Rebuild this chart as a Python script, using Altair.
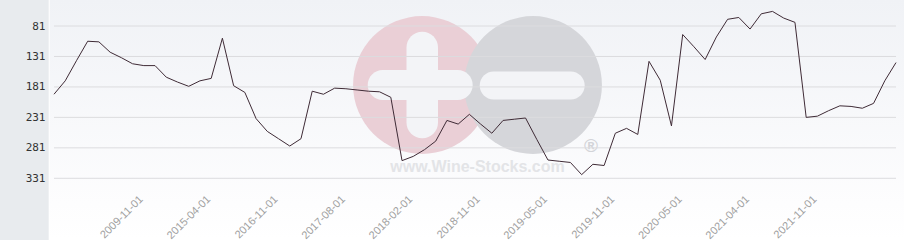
import altair as alt
import pandas as pd

# ranking values, one per period (76 periods, evenly spaced ordinal positions)
ranks = [193, 171, 138, 106, 107, 124, 133, 143, 146, 146,
         165, 173, 180, 171, 167, 101, 179, 190, 233, 254,
         266, 278, 266, 188, 193, 183, 184, 186, 188, 189,
         198, 302, 295, 284, 270, 236, 242, 226, 242, 257,
         236, 234, 232, 267, 301, 303, 305, 325, 308, 310,
         257, 249, 259, 139, 170, 245, 95, 115, 136, 99,
         70, 67, 86, 61, 57, 68, 75, 231, 229, 220,
         212, 213, 216, 208, 171, 141]

tick_index = [8, 14, 20, 26, 32, 38, 44, 50, 56, 62, 68]
tick_labels = ["2009-11-01", "2015-04-01", "2016-11-01", "2017-08-01",
               "2018-02-01", "2018-11-01", "2019-05-01", "2019-11-01",
               "2020-05-01", "2021-04-01", "2021-11-01"]
y_ticks = [81, 131, 181, 231, 281, 331]

df = pd.DataFrame({"idx": list(range(len(ranks))), "rank": ranks})
grid_df = pd.DataFrame({"t": y_ticks})
one = pd.DataFrame({"a": [0]})

W, H = 842, 190

label_expr = ("[" + ",".join(f"'{s}'" for s in tick_labels) + "][indexof(["
              + ",".join(str(i) for i in tick_index) + "], datum.value)]")

x_enc = alt.X("idx:Q",
              scale=alt.Scale(domain=[0, len(ranks) - 1], nice=False, zero=False),
              axis=alt.Axis(values=tick_index, labelExpr=label_expr, labelAngle=-45,
                            labelAlign="right", labelBaseline="top", labelPadding=3,
                            labelOffset=-7,
                            ticks=False, domain=False, grid=False, title=None,
                            labelFont="Liberation Sans", labelFontSize=11,
                            labelColor="#a0a0a0", labelOverlap=False, zindex=1))
y_scale = alt.Scale(domain=[38.3, 350.2], reverse=True, nice=False, zero=False)
y_axis = alt.Axis(values=y_ticks, ticks=False, domain=False, grid=False, title=None,
                  labelFont="DejaVu Sans Mono", labelFontSize=11, labelColor="#333333",
                  labelPadding=9, zindex=1)

bg_gray = alt.Chart(one).mark_rect(color="#e8ebee").encode(
    x=alt.value(-54), x2=alt.value(-5.3), y=alt.value(0), y2=alt.value(240))

bg_grad = alt.Chart(one).mark_rect(
    fill=alt.Gradient(gradient="linear",
                      stops=[alt.GradientStop(color="#f0f2f6", offset=0),
                             alt.GradientStop(color="#fdfdfe", offset=0.85),
                             alt.GradientStop(color="#ffffff", offset=1)],
                      x1=0, x2=0, y1=0, y2=1)
).encode(x=alt.value(-4.3), x2=alt.value(850), y=alt.value(0), y2=alt.value(240))

# watermark
pink = alt.Chart(one).mark_circle(color="#eacfd6", opacity=1, size=19000).encode(
    x=alt.value(368), y=alt.value(85))
gray = alt.Chart(one).mark_circle(color="#d5d6da", opacity=1, size=19000).encode(
    x=alt.value(479), y=alt.value(85))
plus_v = alt.Chart(one).mark_rect(color="#f3f4f7", cornerRadius=16).encode(
    x=alt.value(352.5), x2=alt.value(384), y=alt.value(31.7), y2=alt.value(138.3))
plus_h = alt.Chart(one).mark_rect(color="#f3f4f7", cornerRadius=15).encode(
    x=alt.value(313.7), x2=alt.value(418.7), y=alt.value(70), y2=alt.value(100))
minus = alt.Chart(one).mark_rect(color="#f3f4f7", cornerRadius=14).encode(
    x=alt.value(425.7), x2=alt.value(530.7), y=alt.value(71.5), y2=alt.value(99.5))
reg = alt.Chart(one).mark_text(text="®", fontSize=19, color="#d3d4d8",
                               font="Liberation Sans", fontWeight="bold").encode(
    x=alt.value(537), y=alt.value(146))
site = alt.Chart(one).mark_text(text="www.Wine-Stocks.com", fontSize=16, color="#e3e4e7",
                                font="Liberation Sans", fontWeight="bold",
                                baseline="alphabetic").encode(
    x=alt.value(423.5), y=alt.value(172))

grid = alt.Chart(grid_df).mark_rule(color="#dcdcdf", strokeWidth=1).encode(
    y=alt.Y("t:Q", scale=y_scale, axis=y_axis), x=alt.value(0), x2=alt.value(W))

line = alt.Chart(df).mark_line(color="#3f2b36", strokeWidth=1).encode(
    x=x_enc, y=alt.Y("rank:Q", scale=y_scale, axis=y_axis))

chart = alt.layer(bg_gray, bg_grad, pink, gray, plus_v, plus_h, minus, reg, site,
                  grid, line).properties(
    width=W, height=H,
    autosize=alt.AutoSizeParams(type="none"),
    padding={"left": 54, "top": 0, "right": 8, "bottom": 50},
    background="white",
).configure_view(stroke=None)

chart.save("out.html", embed_options={"renderer": "svg", "actions": False})
